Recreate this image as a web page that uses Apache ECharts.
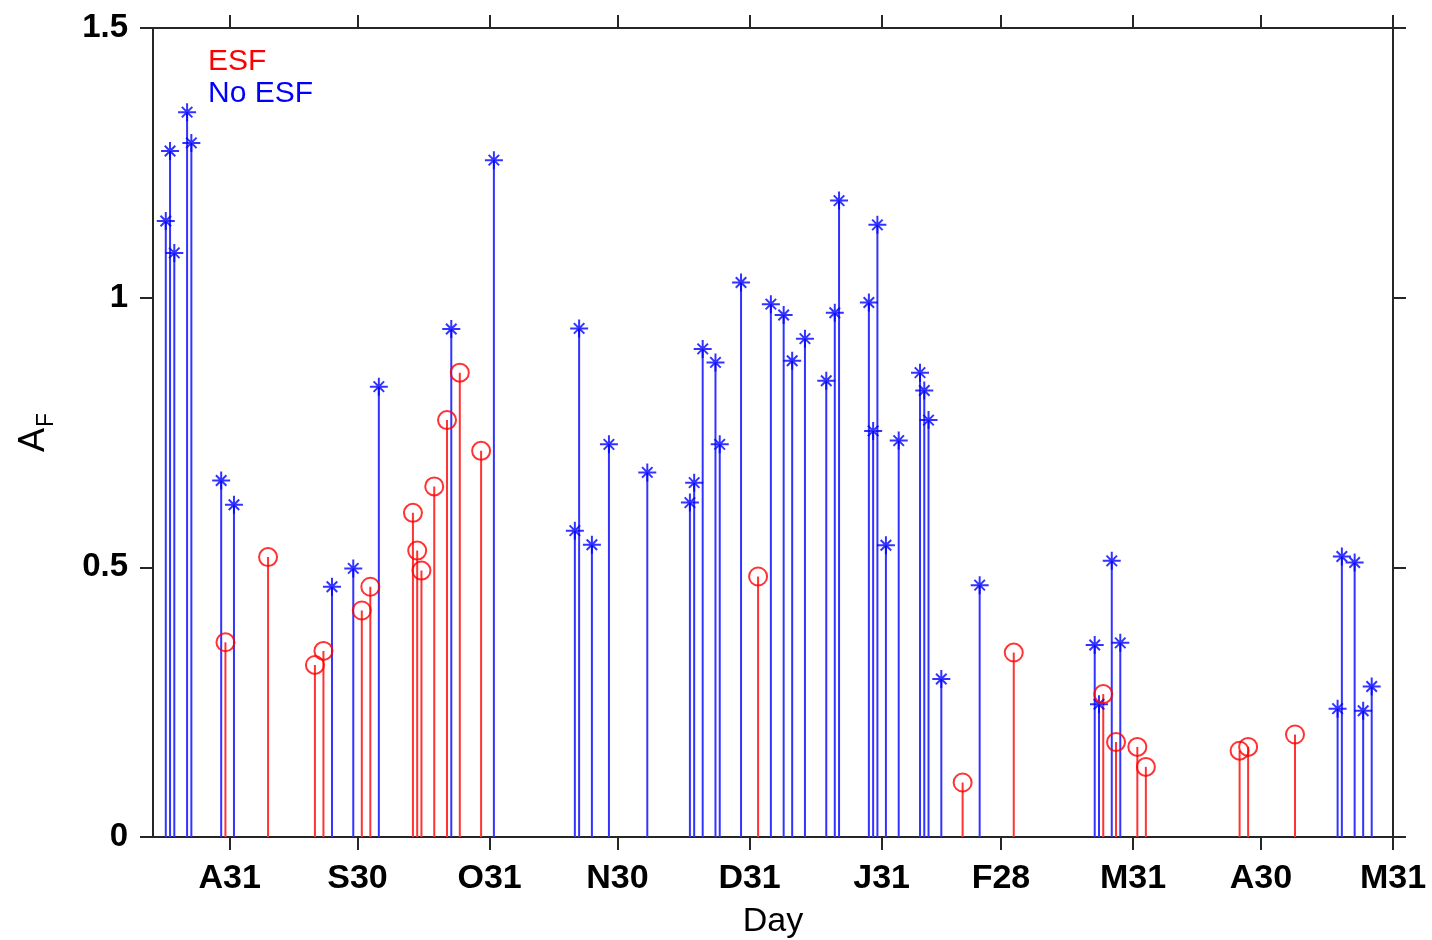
<!DOCTYPE html>
<html>
<head>
<meta charset="utf-8">
<script src="https://cdn.jsdelivr.net/npm/echarts@6/dist/echarts.min.js"></script>
<style>
  html, body { margin: 0; padding: 0; background: #fff; }
  #main { width: 1432px; height: 940px; }
</style>
</head>
<body>
<div id="main"></div>
<script>
// day of year (Aug 31 = 243)
const tickDays = [243, 273, 304, 334, 365, 396, 424, 455, 485, 516]
const tickLabels = ['A31', 'S30', 'O31', 'N30', 'D31', 'J31', 'F28', 'M31', 'A30', 'M31']

// No ESF (blue stars)
const noEsfDays = [228, 229, 230, 233, 234, 241, 244, 267, 272, 278, 295, 305, 324, 325, 328, 332, 341,
  351, 352, 354, 357, 358, 363, 370, 373, 375, 378, 383, 385, 386, 393, 394, 395, 397, 400, 405, 406, 407,
  410, 419, 446, 447, 450, 452, 503, 504, 507, 509, 511]
const noEsfVals = [1.142, 1.272, 1.083, 1.344, 1.287, 0.661, 0.616, 0.464, 0.498, 0.835, 0.942, 1.255, 0.568,
  0.943, 0.542, 0.728, 0.676, 0.620, 0.657, 0.905, 0.880, 0.728, 1.028, 0.988, 0.968, 0.883, 0.924, 0.846,
  0.972, 1.180, 0.991, 0.753, 1.135, 0.541, 0.735, 0.861, 0.828, 0.773, 0.293, 0.467, 0.356, 0.246, 0.512,
  0.360, 0.238, 0.520, 0.509, 0.234, 0.279]

// ESF (red circles)
const esfDays = [242, 252, 263, 265, 274, 276, 286, 287, 288, 291, 294, 297, 302, 367, 415, 427, 448, 451,
  456, 458, 480, 482, 493]
const esfVals = [0.361, 0.519, 0.319, 0.345, 0.420, 0.464, 0.601, 0.531, 0.494, 0.650, 0.773, 0.861, 0.716,
  0.483, 0.101, 0.342, 0.265, 0.176, 0.167, 0.130, 0.160, 0.167, 0.190]

const FONT = '"Liberation Sans", Arial, Helvetica, sans-serif'
const AXIS_COLOR = '#262626'
const BLUE = '#0000ff'
const RED = '#ff0000'
const STAR = 'path://M12,0L12,24M0,12L24,12M5,5L19,19M5,19L19,5'

let pairs = (xs, ys) => xs.map((x, i) => [x, ys[i]])

// stem line from 0 up to the marker
let stem = (color) => (params, api) => {
  let x = api.value(0)
  let p0 = api.coord([x, 0])
  let p1 = api.coord([x, api.value(1)])
  return {
    type: 'line',
    shape: { x1: p0[0], y1: p0[1], x2: p1[0], y2: p1[1] },
    style: { stroke: color, lineWidth: 2 }
  }
}

let xAxisBase = (pos) => ({
  type: 'value',
  position: pos,
  min: 225,
  max: 516,
  splitLine: { show: false },
  axisLine: { show: true, onZero: false, lineStyle: { color: AXIS_COLOR, width: 2 } },
  axisTick: {
    show: true, inside: false, length: 13,
    customValues: tickDays,
    lineStyle: { color: AXIS_COLOR, width: 2 }
  }
})

let yAxisBase = (pos) => ({
  type: 'value',
  position: pos,
  min: 0,
  max: 1.5,
  interval: 0.5,
  splitLine: { show: false },
  axisLine: { show: true, onZero: false, lineStyle: { color: AXIS_COLOR, width: 2 } },
  axisTick: { show: true, inside: false, length: 13, lineStyle: { color: AXIS_COLOR, width: 2 } }
})

let chart = echarts.init(document.getElementById('main'))

let option = {
  backgroundColor: '#fff',
  animation: false,
  grid: { left: 153, right: 39, top: 28, bottom: 103, outerBoundsMode: 'none', containLabel: false },
  xAxis: [
    Object.assign(xAxisBase('bottom'), {
      name: 'Day',
      nameLocation: 'middle',
      nameGap: 68,
      nameTextStyle: { color: '#000', fontSize: 34, fontFamily: FONT },
      axisLabel: {
        show: true,
        customValues: tickDays,
        margin: 25,
        color: '#000',
        fontSize: 34,
        fontWeight: 'bold',
        fontFamily: FONT,
        formatter: (v) => tickLabels[tickDays.indexOf(v)] || ''
      }
    }),
    Object.assign(xAxisBase('top'), { axisLabel: { show: false } })
  ],
  yAxis: [
    Object.assign(yAxisBase('left'), {
      axisLabel: {
        show: true,
        margin: 25,
        color: '#000',
        fontSize: 33,
        fontWeight: 'bold',
        fontFamily: FONT
      }
    }),
    Object.assign(yAxisBase('right'), { axisLabel: { show: false } })
  ],
  graphic: [
    {
      type: 'text', left: 208, top: 47,
      style: { text: 'ESF', fill: RED, font: '30px ' + FONT }
    },
    {
      type: 'text', left: 208, top: 79,
      style: { text: 'No ESF', fill: BLUE, font: '30px ' + FONT }
    },
    {
      type: 'group', x: 34, y: 440, rotation: Math.PI / 2,
      children: [
        { type: 'text', x: 0, y: 0, style: { text: 'A', fill: '#000', font: '36px ' + FONT, align: 'center', verticalAlign: 'middle' } },
        { type: 'text', x: 20, y: 13, style: { text: 'F', fill: '#000', font: '23px ' + FONT, align: 'center', verticalAlign: 'middle' } }
      ]
    }
  ],
  series: [
    {
      name: 'No ESF stems',
      type: 'custom',
      renderItem: stem('#3333ff'),
      data: pairs(noEsfDays, noEsfVals),
      z: 2
    },
    {
      name: 'ESF stems',
      type: 'custom',
      renderItem: stem('#ff3333'),
      data: pairs(esfDays, esfVals),
      z: 2
    },
    {
      name: 'No ESF',
      type: 'scatter',
      symbol: STAR,
      symbolSize: 18,
      itemStyle: { color: BLUE, borderColor: BLUE, borderWidth: 2 },
      data: pairs(noEsfDays, noEsfVals),
      z: 3
    },
    {
      name: 'ESF',
      type: 'scatter',
      symbol: 'circle',
      symbolSize: 18,
      itemStyle: { color: 'rgba(0,0,0,0)', borderColor: RED, borderWidth: 2 },
      data: pairs(esfDays, esfVals),
      z: 3
    }
  ]
}

chart.setOption(option)
</script>
</body>
</html>
